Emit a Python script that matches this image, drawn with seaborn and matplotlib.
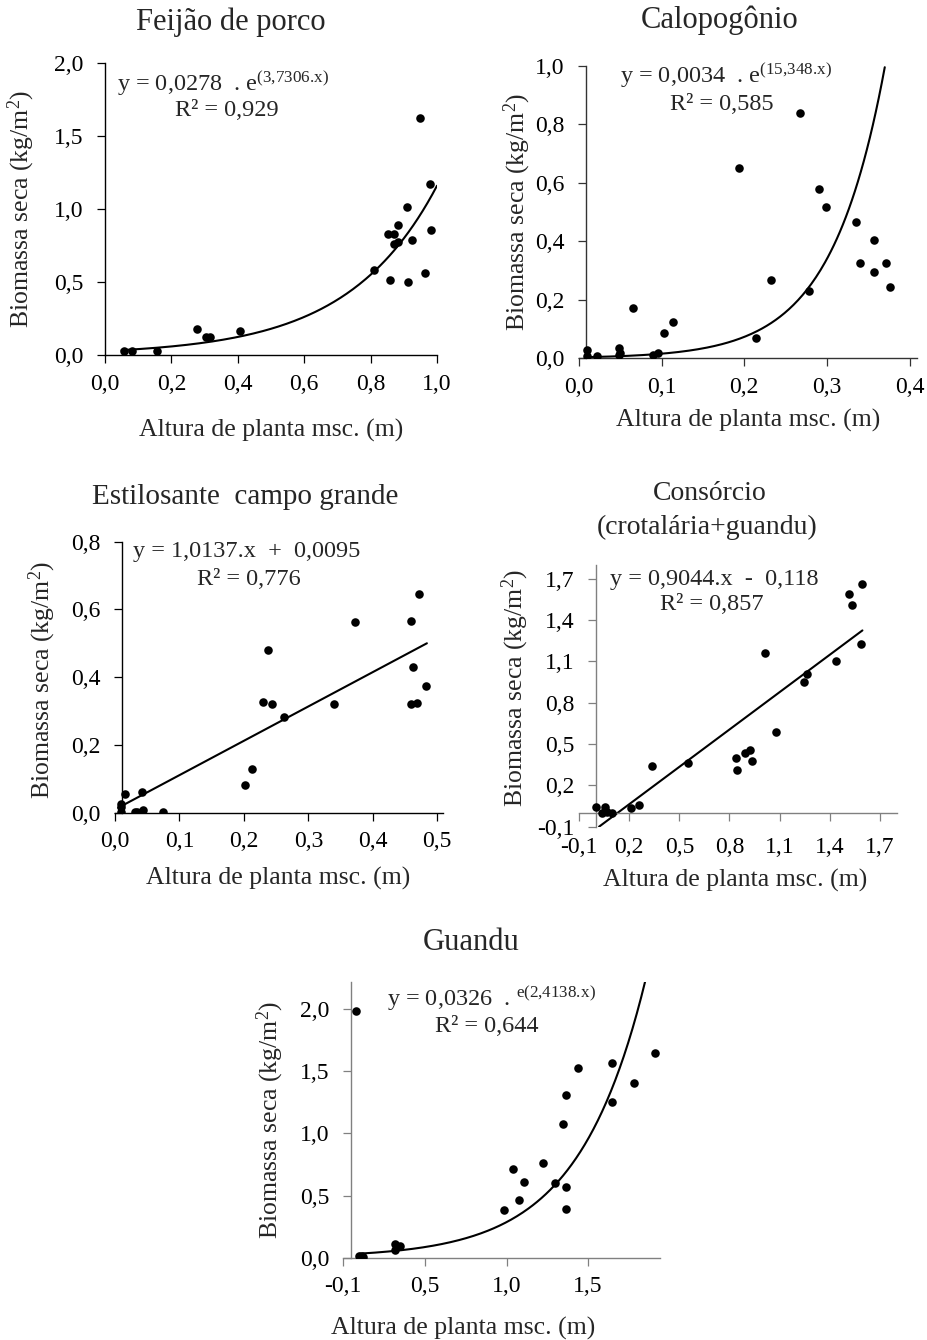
import numpy as np
import seaborn as sns
import matplotlib
matplotlib.use('Agg')
import matplotlib.pyplot as plt
from matplotlib.ticker import FuncFormatter, FixedLocator, FixedFormatter

# Feijão de porco
fp_x = [0.058, 0.080, 0.156, 0.277, 0.303, 0.316, 0.406, 0.809, 0.851, 0.870, 0.858,
        0.884, 0.870, 0.884, 0.909, 0.924, 0.912, 0.949, 0.965, 0.980, 0.983]
fp_y = [0.025, 0.025, 0.025, 0.178, 0.123, 0.123, 0.165, 0.580, 0.832, 0.832, 0.512,
        0.889, 0.759, 0.772, 1.017, 0.786, 0.500, 1.621, 0.562, 1.168, 0.855]
fp_a, fp_b = 0.0278, 3.7306

# Calopogônio
cal_x = [0.010, 0.010, 0.022, 0.048, 0.048, 0.050, 0.065, 0.089, 0.095, 0.103, 0.114, 0.194,
         0.214, 0.232, 0.268, 0.278, 0.290, 0.299, 0.335, 0.340, 0.357, 0.357, 0.371, 0.376]
cal_y = [0.028, 0.008, 0.008, 0.036, 0.011, 0.018, 0.173, 0.011, 0.018, 0.085, 0.125, 0.652,
         0.068, 0.268, 0.839, 0.229, 0.578, 0.517, 0.466, 0.327, 0.404, 0.296, 0.327, 0.245]
cal_a, cal_b = 0.0034, 15.348

# Estilosante campo grande
est_x = [0.009, 0.009, 0.009, 0.015, 0.031, 0.034, 0.042, 0.044, 0.075, 0.202, 0.213, 0.229,
         0.237, 0.244, 0.262, 0.340, 0.373, 0.460, 0.471, 0.462, 0.460, 0.468, 0.483]
est_y = [0.003, 0.018, 0.026, 0.055, 0.002, 0.002, 0.062, 0.008, 0.002, 0.083, 0.129, 0.328,
         0.481, 0.322, 0.282, 0.322, 0.564, 0.567, 0.645, 0.429, 0.322, 0.324, 0.374]
est_a, est_b = 1.0137, 0.0095

# Consórcio (crotalária+guandu)
con_x = [0.0, 0.039, 0.055, 0.069, 0.096, 0.211, 0.261, 0.337, 0.552, 0.837, 0.843, 0.893,
         0.923, 0.933, 1.012, 1.080, 1.248, 1.264, 1.439, 1.515, 1.533, 1.585, 1.595]
con_y = [0.045, 0.002, 0.045, 0.009, 0.002, 0.038, 0.057, 0.340, 0.360, 0.401, 0.311, 0.437,
         0.457, 0.379, 1.163, 0.587, 0.950, 1.006, 1.102, 1.589, 1.507, 1.224, 1.663]
con_a, con_b = 0.9044, -0.118

# Guandu
gu_x = [-0.022, -0.002, 0.013, 0.023, 0.217, 0.217, 0.247, 0.884, 0.937, 0.978, 1.008,
        1.125, 1.196, 1.243, 1.262, 1.262, 1.262, 1.335, 1.544, 1.544, 1.678, 1.809]
gu_y = [1.987, 0.013, 0.013, 0.008, 0.110, 0.062, 0.094, 0.386, 0.716, 0.464, 0.611,
        0.761, 0.598, 1.072, 1.306, 0.566, 0.394, 1.523, 1.568, 1.252, 1.402, 1.643]
gu_a, gu_b = 0.0326, 2.4138
gu_xticks = [-0.1, 0.4, 0.9, 1.4]
gu_xticklabels = ['-0,1', '0,5', '1,0', '1,5']

sns.set_style('ticks')
plt.rcParams['font.family'] = ['Liberation Serif', 'DejaVu Serif']
plt.rcParams['mathtext.fontset'] = 'custom'
plt.rcParams['mathtext.rm'] = 'Liberation Serif'
plt.rcParams['mathtext.it'] = 'Liberation Serif:italic'
plt.rcParams['mathtext.default'] = 'regular'

W, H = 927, 1340
fig = plt.figure(figsize=(W / 100, H / 100), dpi=100)

TITLE, LAB, TICK, EQ = 22, 18.5, 17, 17.5


def box(l, r, t, b):
    return [l / W, 1 - b / H, (r - l) / W, (b - t) / H]


def ftext(x, y, s, **kw):
    fig.text(x / W, 1 - y / H, s, **kw)


comma = FuncFormatter(lambda v, p: f'{v:.1f}'.replace('.', ','))


def style(ax, color, xlim, ylim, xticks, yticks, left_shift=0):
    ax.set_xlim(*xlim)
    ax.set_ylim(*ylim)
    ax.set_xticks(xticks)
    ax.set_yticks(yticks)
    ax.xaxis.set_major_formatter(comma)
    ax.yaxis.set_major_formatter(comma)
    for side in ['top', 'right']:
        ax.spines[side].set_visible(False)
    for side in ['left', 'bottom']:
        ax.spines[side].set_color(color)
        ax.spines[side].set_linewidth(1.0)
    if left_shift:
        ax.spines['left'].set_position(('outward', -left_shift))
    ax.tick_params(axis='both', direction='out', length=5.5, width=0.9, color=color,
                   labelsize=TICK, labelcolor='black')
    ax.tick_params(axis='x', pad=8)
    ax.tick_params(axis='y', pad=10)
    ax.set_xlabel('')
    ax.set_ylabel('')
    ax.patch.set_alpha(0)


def draw(ax, x, y, fx, fy):
    sns.scatterplot(x=x, y=y, ax=ax, color='black', s=38, linewidth=0, zorder=3)
    sns.lineplot(x=fx, y=fy, ax=ax, color='black', linewidth=1.5, estimator=None, sort=False)


ylab = 'Biomassa seca (kg/m$^2$)'
xlab = 'Altura de planta msc. (m)'

# panel 1
ax1 = fig.add_axes(box(105, 437, 63, 355))
xf = np.linspace(0.05, 1.0, 200)
draw(ax1, fp_x, fp_y, xf, fp_a * np.exp(fp_b * xf))
style(ax1, 'black', (0, 1.0), (0, 2.0), np.arange(0, 1.01, 0.2), np.arange(0, 2.01, 0.5))
ftext(231, 22, 'Feijão de porco', ha='center', va='center', fontsize=TITLE)
ftext(21, 209, ylab, ha='center', va='center', rotation=90, fontsize=LAB)
ftext(271, 430, xlab, ha='center', va='center', fontsize=LAB)
ftext(117, 84, r'y = 0,0278  . e$^{(3{,}7306.\!x)}$', ha='left', va='center', fontsize=EQ)
ftext(175, 111, 'R² = 0,929', ha='left', va='center', fontsize=EQ)

# panel 2
ax2 = fig.add_axes(box(579, 917, 65.7, 358.3))
xf = np.linspace(0.01, 0.37, 200)
draw(ax2, cal_x, cal_y, xf, cal_a * np.exp(cal_b * xf))
style(ax2, '#333333', (0, 0.409), (0, 1.0), np.arange(0, 0.41, 0.1), np.arange(0, 1.01, 0.2),
      left_shift=5)
ftext(720, 20, 'Calopogônio', ha='center', va='center', fontsize=TITLE)
ftext(517, 212, ylab, ha='center', va='center', rotation=90, fontsize=LAB)
ftext(748, 420, xlab, ha='center', va='center', fontsize=LAB)
ftext(620, 76, r'y = 0,0034  . e$^{(15{,}348.\!x)}$', ha='left', va='center', fontsize=EQ)
ftext(670, 104, 'R² = 0,585', ha='left', va='center', fontsize=EQ)

# panel 3
ax3 = fig.add_axes(box(115, 443, 541.7, 812.7))
xf = np.linspace(0.005, 0.484, 50)
draw(ax3, est_x, est_y, xf, est_a * xf + est_b)
style(ax3, 'black', (0, 0.509), (0, 0.8), np.arange(0, 0.51, 0.1), np.arange(0, 0.81, 0.2),
      left_shift=5)
ftext(245, 497, 'Estilosante  campo grande', ha='center', va='center', fontsize=21)
ftext(42, 680, ylab, ha='center', va='center', rotation=90, fontsize=LAB)
ftext(278, 878, xlab, ha='center', va='center', fontsize=LAB)
ftext(133, 552, 'y = 1,0137.x  +  0,0095', ha='left', va='center', fontsize=EQ)
ftext(197, 580, 'R² = 0,776', ha='left', va='center', fontsize=EQ)

# panel 4
ax4 = fig.add_axes(box(579, 896.7, 564.9, 826.7))
xf = np.linspace(0.02, 1.595, 50)
draw(ax4, con_x, con_y, xf, con_a * xf + con_b)
style(ax4, '#808080', (-0.1, 1.8), (-0.1, 1.8), np.arange(-0.1, 1.71, 0.3),
      np.arange(-0.1, 1.71, 0.3))
ax4.spines['left'].set_position(('data', 0))
ax4.spines['bottom'].set_position(('data', 0))
ax4.tick_params(axis='x', pad=12)
ftext(710, 493, 'Consórcio', ha='center', va='center', fontsize=20)
ftext(707, 527, '(crotalária+guandu)', ha='center', va='center', fontsize=20)
ftext(515, 688, ylab, ha='center', va='center', rotation=90, fontsize=LAB)
ftext(735, 880, xlab, ha='center', va='center', fontsize=LAB)
ftext(610, 579, 'y = 0,9044.x  -  0,118', ha='left', va='center', fontsize=EQ)
ftext(660, 605, 'R² = 0,857', ha='left', va='center', fontsize=EQ)

# panel 5
ax5 = fig.add_axes(box(343.3, 660, 981.7, 1257.7))
xf = np.linspace(-0.002, 1.76, 200)
draw(ax5, gu_x, gu_y, xf, gu_a * np.exp(gu_b * xf))
style(ax5, '#808080', (-0.1, 1.84), (0, 2.22), gu_xticks, np.arange(0, 2.01, 0.5),
      left_shift=5.5)
ax5.xaxis.set_major_locator(FixedLocator(gu_xticks))
ax5.xaxis.set_major_formatter(FixedFormatter(gu_xticklabels))
ftext(471, 942, 'Guandu', ha='center', va='center', fontsize=TITLE)
ftext(270, 1120, ylab, ha='center', va='center', rotation=90, fontsize=LAB)
ftext(463, 1328, xlab, ha='center', va='center', fontsize=LAB)
ftext(387, 999, r'y = 0,0326  . $^{e(2{,}4138.\!x)}$', ha='left', va='center', fontsize=EQ)
ftext(435, 1026, 'R² = 0,644', ha='left', va='center', fontsize=EQ)

fig.savefig('out.png', dpi=100, facecolor='white')
